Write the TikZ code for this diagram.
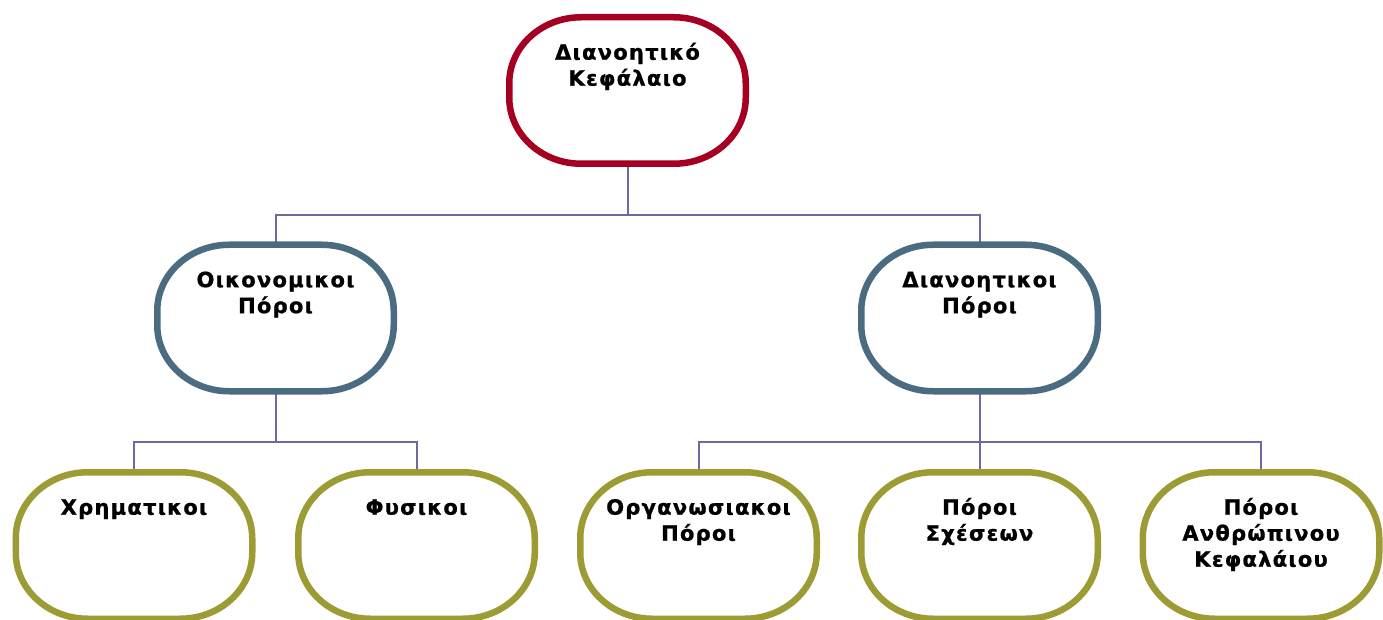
\documentclass[tikz,border=0pt]{standalone}
\usepackage{fontspec}
\newfontfamily\lblfont{DejaVu Sans}[LetterSpace=6, BoldFeatures={FakeBold=1}]
\usetikzlibrary{calc}
\definecolor{topred}{HTML}{A50021}
\definecolor{midblue}{HTML}{4A6B80}
\definecolor{leafolive}{HTML}{9C9B34}
\definecolor{connline}{HTML}{6C6BA0}
\tikzset{
  box/.style={draw=none, outer sep=0pt, inner sep=0pt,
    minimum width=236.5pt, minimum height=146.5pt},
  pill/.style={line width=6.5pt, fill=white},
  lbl/.style={anchor=north, inner sep=0pt, align=center,
    font=\lblfont\bfseries\fontsize{21pt}{26pt}\selectfont, text=black},
  conn/.style={draw=connline, line width=2pt}
}
% outline of a box with elliptical corners, drawn round a named node
\newcommand\pilloutline[2]{%
  \draw[pill, draw=#2]
    ($(#1.north west)+(72pt,0pt)$) -- ($(#1.north east)+(-72pt,0pt)$)
    arc[start angle=90, end angle=0, x radius=72pt, y radius=66pt]
    -- ($(#1.south east)+(0pt,66pt)$)
    arc[start angle=0, end angle=-90, x radius=72pt, y radius=66pt]
    -- ($(#1.south west)+(72pt,0pt)$)
    arc[start angle=270, end angle=180, x radius=72pt, y radius=66pt]
    -- ($(#1.north west)+(0pt,-66pt)$)
    arc[start angle=180, end angle=90, x radius=72pt, y radius=66pt]
    -- cycle;}
\begin{document}
\begin{tikzpicture}[x=1pt, y=-1pt]
\useasboundingbox (0,0) rectangle (1383,620);
\clip (0,0) rectangle (1383,620);

% box frames
\node[box] (cap)   at (627.5,90.5) {};
\node[box] (econ)  at (275.5,318) {};
\node[box] (intel) at (979.5,318) {};
\node[box] (fin)   at (134,545.5) {};
\node[box] (phys)  at (416.5,545.5) {};
\node[box] (org)   at (698.5,545.5) {};
\node[box] (rel)   at (979.5,545.5) {};
\node[box] (hum)   at (1261,545.5) {};

% connectors
\draw[conn] (cap.south) -- ++(0,51) coordinate (j1);
\draw[conn] (econ.north) |- (j1) -| (intel.north);
\draw[conn] (econ.south) -- ++(0,51) coordinate (j2);
\draw[conn] (fin.north) |- (j2) -| (phys.north);
\draw[conn] (intel.south) -- ++(0,51) coordinate (j3);
\draw[conn] (org.north) |- (j3) -| (hum.north);
\draw[conn] (j3) -- (rel.north);

% outlines
\pilloutline{cap}{topred}
\pilloutline{econ}{midblue}
\pilloutline{intel}{midblue}
\pilloutline{fin}{leafolive}
\pilloutline{phys}{leafolive}
\pilloutline{org}{leafolive}
\pilloutline{rel}{leafolive}
\pilloutline{hum}{leafolive}

% labels
\node[lbl] (tcap)  at ($(cap.north)+(0,24)$)   {\strut Διανοητικό\\Κεφάλαιο};
\node[lbl] (tecon) at ($(econ.north)+(0,24)$)  {\strut Οικονομικοι\\Πόροι};
\node[lbl] (tint)  at ($(intel.north)+(0,24)$) {\strut Διανοητικοι\\Πόροι};
\node[lbl] (tfin)  at ($(fin.north)+(0,24)$)   {\strut Χρηματικοι};
\node[lbl] (tphys) at ($(phys.north)+(0,24)$)  {\strut Φυσικοι};
\node[lbl] (torg)  at ($(org.north)+(0,24)$)   {\strut Οργανωσιακοι\\Πόροι};
\node[lbl] (trel)  at ($(rel.north)+(0,24)$)   {\strut Πόροι\\Σχέσεων};
\node[lbl] (thum)  at ($(hum.north)+(0,24)$)   {\strut Πόροι\\Ανθρώπινου\\Κεφαλάιου};
\end{tikzpicture}
\end{document}
